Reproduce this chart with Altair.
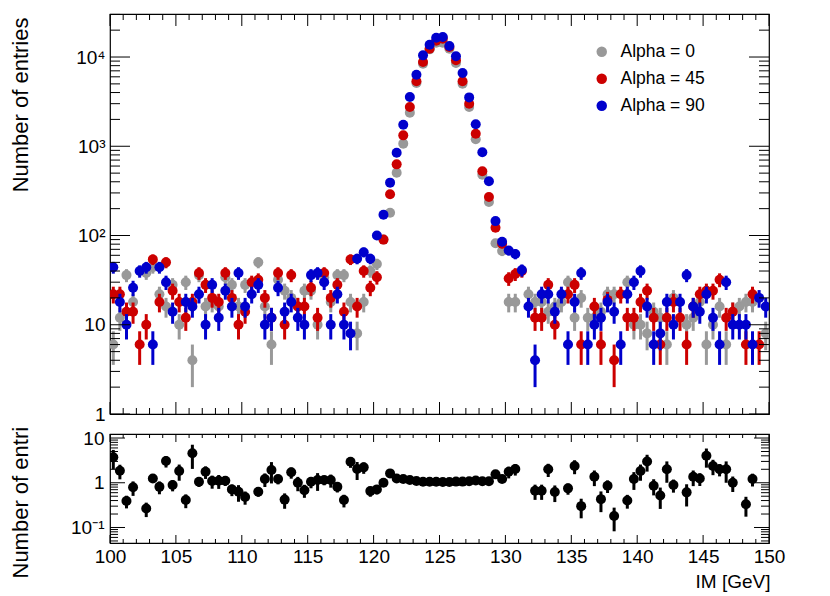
import altair as alt
import numpy as np
import pandas as pd

N = None
# histogram binning: 100 bins from 100 to 150 GeV
x_lo, x_hi, n_bins = 100.0, 150.0, 100
centers = x_lo + (np.arange(n_bins) + 0.5) * (x_hi - x_lo) / n_bins

series_names = ["Alpha = 0", "Alpha = 45", "Alpha = 90"]
series_colors = ["#999999", "#cc0000", "#0000cc"]

alpha0 = [6, 12, 36, 18, N, 38, 44, 22, 16, 28,
          10, 30, 4, 36, 16, 18, 16, 34, 28, 16,
          28, N, 50, 16, 6, 32, 24, 20, 16, 24,
          24, 10, 34, 18, 36, 36, 18, 8, 18, 40,
          48, 90, 180, 505, 1070, 2380, 5110, 8410, 12190, 14460,
          14460, 12390, 8570, 5020, 2750, 1200, 480, 237, 82, 67,
          18, 18, N, 22, 18, 18, 14, 16, 18, 30,
          12, 20, 12, 12, 14, 22, 22, N, 30, 10,
          10, 8, 14, 12, 6, 20, N, 10, 12, 18,
          6, 10, 16, 6, 14, 16, 18, 18, N, 8]

alpha45 = [22, 22, 14, 14, 6, 10, 54, 18, 50, 24,
           18, 12, 18, 38, 28, 20, 18, 38, 20, 10,
           14, 30, 32, 20, 12, 38, 10, 36, 16, 16,
           26, 12, 38, 20, 28, 14, 54, 16, 40, 26,
           34, 90, 290, 627, 1325, 2754, 5343, 8787, 12390, 15200,
           16030, 12940, 9180, 5343, 3000, 1383, 524, 270, 122, 81,
           33, 37, 40, N, 12, 12, 28, 10, N, 22,
           28, 6, N, 16, 6, 19, 4, 22, 12, 12,
           18, 24, 12, 6, 12, 18, 12, 6, 16, 22,
           24, 24, 32, 12, 14, N, 6, 22, 6, N]

alpha90 = [44, 18, 10, 26, 40, 44, 6, 44, 30, 14,
           N, 18, 16, 22, 10, 28, 12, 24, 16, 38,
           16, 22, 28, 10, 12, 26, 14, 18, 12, 10,
           36, 38, 30, 10, 22, 10, 8, 55, 65, 55,
           100, 171, 391, 847, 1743, 3565, 6334, 10440, 13730, 16440,
           16750, 13280, 10190, 6620, 3530, 1762, 855, 405, 145, 85,
           68, 62, 41, 16, 4, 22, 22, 14, 22, 6,
           18, 38, 6, 10, 12, 18, 14, 6, 22, 30,
           40, 16, 6, 8, 18, 10, 18, 36, 16, 14,
           22, 12, 6, 30, 10, 10, 10, 6, 20, 16]

ratio = [3.71, 1.86, 0.39, 0.79, N, 0.265, 1.25, 0.81, 3.07, 0.89,
         1.83, 0.41, 4.56, 1.05, 1.77, 1.09, 1.11, 1.11, 0.71, 0.63,
         0.48, N, 0.63, 1.21, 1.93, 1.21, 0.42, 1.71, 1.0, 0.68,
         1.05, 1.15, 1.15, 1.15, 0.81, 0.41, 2.96, 2.03, 2.21, 0.65,
         0.71, 1.0, 1.62, 1.25, 1.21, 1.15, 1.09, 1.05, 1.05, 1.05,
         1.04, 1.04, 1.06, 1.06, 1.08, 1.12, 1.08, 1.08, 1.54, 1.21,
         1.77, 2.03, N, N, 0.66, 0.66, 2.0, 0.62, N, 0.75,
         2.37, 0.30, N, 1.36, 0.43, 0.86, 0.18, N, 0.40, 1.21,
         1.83, 3.0, 0.86, 0.52, 2.0, 0.89, N, 0.61, 1.36, 1.24,
         4.0, 2.37, 2.0, 2.0, 1.0, N, 0.33, 1.21, N, N]

W, H_TOP, H_BOT = 659, 400, 109
FONT = "Liberation Sans"
TOP_DOMAIN = [1, 30340]
BOT_DOMAIN = [0.045, 12.3]

xscale = alt.Scale(domain=[x_lo, x_hi], nice=False, zero=False)
yscale_top = alt.Scale(type="log", domain=TOP_DOMAIN, nice=False)
yscale_bot = alt.Scale(type="log", domain=BOT_DOMAIN, nice=False)
cscale = alt.Scale(domain=series_names, range=series_colors)

yaxis_top = alt.Axis(
    title="Number of entries", values=[1, 10, 100, 1000, 10000],
    labelExpr="datum.value >= 5000 ? '10⁴' : datum.value >= 500 ? '10³' : datum.value >= 50 ? '10²' : datum.value >= 5 ? '10' : '1'",
    ticks=False, domain=False, grid=False, labelFontSize=19, labelPadding=5,
    labelOverlap=False, labelFont=FONT, labelColor="black",
    titleFont=FONT, titleFontSize=22, titleFontWeight="normal", titleColor="black",
    titleX=-100, titleY=3, titleAngle=270, titleAlign="right", titleBaseline="top",
)
yaxis_bot = alt.Axis(
    title="Number of entri", values=[0.1, 1, 10],
    labelExpr="datum.value < 0.5 ? '10⁻¹' : datum.value < 5 ? '1' : '10'",
    ticks=False, domain=False, grid=False, labelFontSize=19, labelPadding=6,
    labelOverlap=False, labelFont=FONT, labelColor="black",
    titleFont=FONT, titleFontSize=22, titleFontWeight="normal", titleColor="black",
    titleX=-100, titleY=144, titleAngle=270, titleAlign="left", titleBaseline="top",
)
xaxis_bot = alt.Axis(
    title="IM [GeV]", values=list(range(100, 151, 5)), format="d",
    ticks=False, domain=False, grid=False, labelFontSize=19, labelPadding=4,
    labelFlush=False, labelOverlap=False, labelFont=FONT, labelColor="black",
    titleFont=FONT, titleFontSize=19, titleFontWeight="normal", titleColor="black",
    titleX=W + 1, titleY=29, titleAlign="right", titleBaseline="top",
)

legend = alt.Legend(
    title=None, orient="none", legendX=483, legendY=29, padding=0,
    labelFontSize=17.5, labelFont=FONT, labelColor="black", symbolSize=110,
    symbolType="circle", symbolStrokeWidth=0, symbolOpacity=1,
    rowPadding=8, labelOffset=10,
)

frame = alt.ViewBackground(stroke="black", strokeWidth=1.2, strokeOpacity=1)

# ---------- top panel ----------
layers_top = []
for name, color, vals in zip(series_names, series_colors, [alpha0, alpha45, alpha90]):
    df = pd.DataFrame({"x": centers, "v": vals, "s": name}).dropna()
    df["v"] = df["v"].astype(float)
    err = np.sqrt(df["v"])
    df["lo"] = (df["v"] - err).clip(lower=TOP_DOMAIN[0])
    df["hi"] = df["v"] + err
    bars = alt.Chart(df).mark_rule(strokeWidth=3, color=color, clip=True).encode(
        x=alt.X("x:Q", scale=xscale, axis=None),
        y=alt.Y("lo:Q", scale=yscale_top, axis=yaxis_top),
        y2="hi:Q",
    )
    pts = alt.Chart(df).mark_circle(size=100, opacity=1, clip=True).encode(
        x=alt.X("x:Q", scale=xscale, axis=None),
        y=alt.Y("v:Q", scale=yscale_top, axis=yaxis_top),
        color=alt.Color("s:N", scale=cscale, legend=legend),
    )
    layers_top += [bars, pts]

ymaj_top = [1, 10, 100, 1000, 10000]
ymin_top = [m * 10 ** k for k in range(0, 4) for m in range(2, 10)] + [20000, 30000]
xmaj = list(range(100, 151, 5))
xmin = [v for v in range(100, 151) if v % 5 != 0]


def ytick_layers(vals, scale, axis, length, width):
    d = pd.DataFrame({"t": vals})
    left = alt.Chart(d).mark_rule(color="black", strokeWidth=1).encode(
        y=alt.Y("t:Q", scale=scale, axis=axis), x=alt.value(0), x2=alt.value(length))
    right = alt.Chart(d).mark_rule(color="black", strokeWidth=1).encode(
        y=alt.Y("t:Q", scale=scale, axis=axis), x=alt.value(width), x2=alt.value(width - length))
    return [left, right]


def xtick_layers(vals, axis, length, height):
    d = pd.DataFrame({"t": vals})
    bottom = alt.Chart(d).mark_rule(color="black", strokeWidth=1).encode(
        x=alt.X("t:Q", scale=xscale, axis=axis), y=alt.value(height), y2=alt.value(height - length))
    top = alt.Chart(d).mark_rule(color="black", strokeWidth=1).encode(
        x=alt.X("t:Q", scale=xscale, axis=axis), y=alt.value(0), y2=alt.value(length))
    return [bottom, top]


ticks_top = (ytick_layers(ymaj_top, yscale_top, yaxis_top, 20, W)
             + ytick_layers([v for v in ymin_top if v < TOP_DOMAIN[1]], yscale_top, yaxis_top, 10, W)
             + xtick_layers(xmaj, None, 12, H_TOP)
             + xtick_layers(xmin, None, 6, H_TOP))

top = alt.layer(*layers_top, *ticks_top).properties(width=W, height=H_TOP, view=frame)

# ---------- bottom panel (ratio) ----------
rdf = pd.DataFrame({"x": centers, "r": ratio, "a": alpha45, "b": alpha0}).dropna()
rdf = rdf.astype({"r": float, "a": float, "b": float})
rerr = rdf["r"] * np.sqrt(1.0 / rdf["a"] + 1.0 / rdf["b"])
rdf["lo"] = (rdf["r"] - rerr).clip(lower=BOT_DOMAIN[0])
rdf["hi"] = rdf["r"] + rerr

rbars = alt.Chart(rdf).mark_rule(strokeWidth=3, color="black", clip=True).encode(
    x=alt.X("x:Q", scale=xscale, axis=xaxis_bot),
    y=alt.Y("lo:Q", scale=yscale_bot, axis=yaxis_bot),
    y2="hi:Q",
)
rpts = alt.Chart(rdf).mark_circle(size=100, opacity=1, color="black", clip=True).encode(
    x=alt.X("x:Q", scale=xscale, axis=xaxis_bot),
    y=alt.Y("r:Q", scale=yscale_bot, axis=yaxis_bot),
)

ymaj_bot = [0.1, 1, 10]
ymin_bot = [0.05, 0.06, 0.07, 0.08, 0.09] + [m / 10 for m in range(2, 10)] + list(range(2, 10))
ticks_bot = (ytick_layers(ymaj_bot, yscale_bot, yaxis_bot, 15, W)
             + ytick_layers(ymin_bot, yscale_bot, yaxis_bot, 8, W)
             + xtick_layers(xmaj, xaxis_bot, 8, H_BOT)
             + xtick_layers(xmin, xaxis_bot, 4, H_BOT))

bottom = alt.layer(rbars, rpts, *ticks_bot).properties(width=W, height=H_BOT, view=frame)

chart = alt.vconcat(top, bottom, spacing=20, bounds="flush").properties(
    padding={"left": 0, "top": 4, "right": 5, "bottom": 5}
).configure_view(stroke="black", strokeWidth=1.2).configure(font=FONT, background="white")

chart.save("out.html", embed_options={"renderer": "svg", "actions": False})
